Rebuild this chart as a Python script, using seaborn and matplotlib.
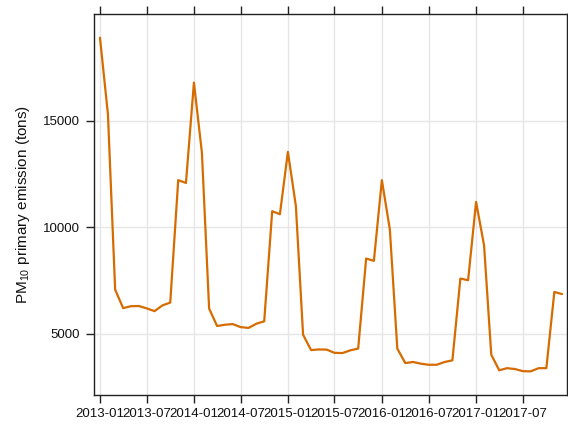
import numpy as np
import pandas as pd
import matplotlib
matplotlib.use("Agg")
import matplotlib.pyplot as plt
import matplotlib.dates as mdates
import seaborn as sns

# monthly PM10 primary emission (tons), 2013-01 .. 2017-12
months = pd.date_range("2013-01-01", periods=60, freq="MS")
v2013 = [18900, 15300, 7070, 6200, 6290, 6300, 6190, 6060, 6330, 6460, 12210, 12080]
v2014 = [16790, 13500, 6180, 5360, 5420, 5450, 5310, 5270, 5470, 5580, 10750, 10610]
v2015 = [13540, 11000, 4950, 4230, 4260, 4250, 4100, 4090, 4220, 4300, 8530, 8420]
v2016 = [12210, 9900, 4300, 3620, 3670, 3590, 3540, 3540, 3670, 3750, 7590, 7510]
v2017 = [11190, 9150, 4010, 3280, 3380, 3340, 3240, 3230, 3380, 3380, 6960, 6860]
values = v2013 + v2014 + v2015 + v2016 + v2017

xtick_labels = ["2013-01", "2013-07", "2014-01", "2014-07", "2015-01",
                "2015-07", "2016-01", "2016-07", "2017-01", "2017-07"]
ytick_values = [5000, 10000, 15000]

df = pd.DataFrame({"date": months, "pm10": values})

sns.set_theme(style="white")
plt.rcParams["font.family"] = ["Liberation Sans", "DejaVu Sans"]
plt.rcParams["mathtext.fontset"] = "custom"
plt.rcParams["mathtext.rm"] = "Liberation Sans"
plt.rcParams["mathtext.it"] = "Liberation Sans"

fig = plt.figure(figsize=(5.68, 4.29), dpi=100)
ax = fig.add_axes([94.3 / 568, 1 - 395 / 429, (566.7 - 94.3) / 568, (395 - 14.3) / 429])

sns.lineplot(data=df, x="date", y="pm10", ax=ax, color="#D66B00", linewidth=1.6)

xt = pd.to_datetime(xtick_labels, format="%Y-%m")
ax.set_xticks(xt)
ax.set_xticklabels(xtick_labels)
ax.set_yticks(ytick_values)
ax.set_yticklabels([str(v) for v in ytick_values])

ax.set_xlim(pd.Timestamp("2012-12-10"), pd.Timestamp("2017-12-19"))
ax.set_ylim(2120, 20000)

ax.grid(True, color="#E6E6E6", linewidth=1.0)
ax.set_axisbelow(True)
for s in ax.spines.values():
    s.set_color("#222222")
    s.set_linewidth(1.0)

ax.tick_params(axis="x", which="both", bottom=True, top=True, direction="out",
               length=5.5, width=1.0, color="#222222", labelsize=9.5, labelcolor="#111111", pad=4)
ax.tick_params(axis="y", which="both", left=True, right=False, direction="out",
               length=5.5, width=1.0, color="#222222", labelsize=9.5, labelcolor="#111111", pad=5)

ax.set_xlabel("")
ax.set_ylabel(r"PM$_{\mathregular{10}}$ primary emission (tons)", fontsize=11, color="#111111", labelpad=8)

fig.savefig("out.png", dpi=100)
